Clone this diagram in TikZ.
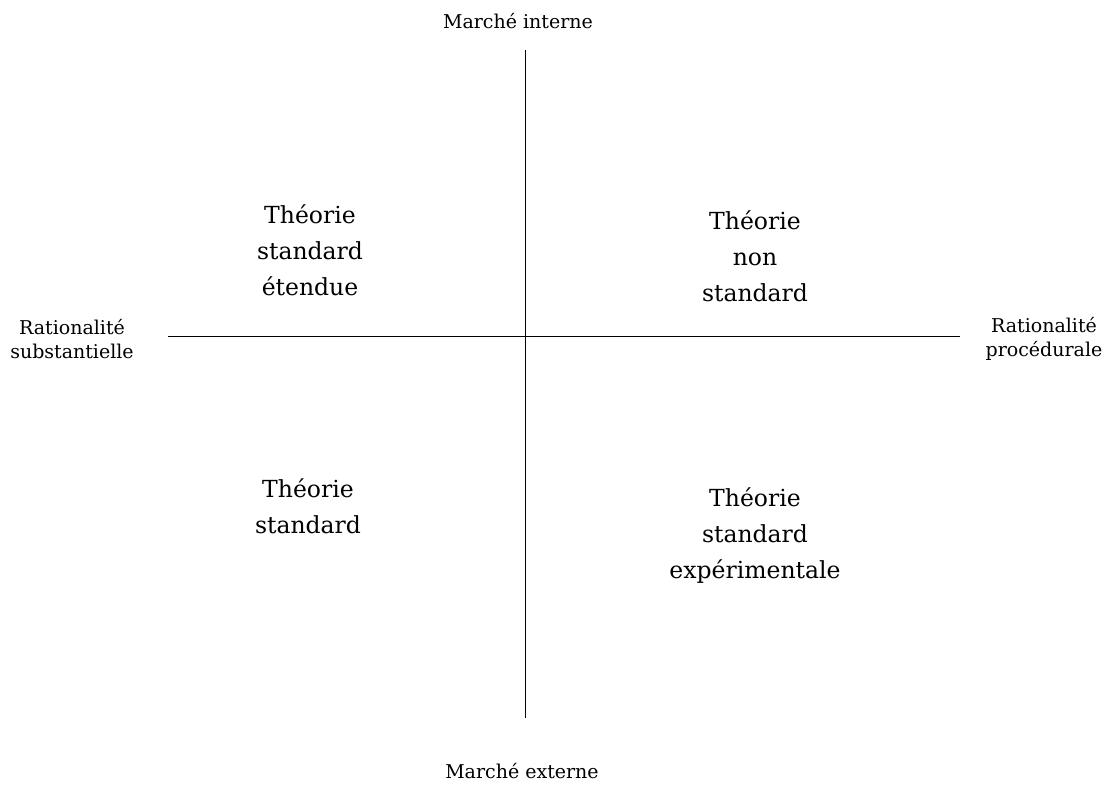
\documentclass[tikz,border=0pt]{standalone}
\usepackage{fontspec}
\setmainfont{DejaVu Serif}
\begin{document}
\begin{tikzpicture}[x=1pt,y=-1pt,
  axis/.style={line width=1pt,black},
  small/.style={align=center,inner sep=0pt,font=\fontsize{19}{24}\selectfont},
  big/.style={align=center,inner sep=0pt,font=\fontsize{23.5}{36}\selectfont}]
\useasboundingbox (0,0) rectangle (1116,785);
% axes
\coordinate (vt) at (525,50);
\coordinate (vb) at (525,718);
\coordinate (hl) at (168,336);
\coordinate (hr) at (960,336);
\draw[axis] (vt) -- (vb);
\draw[axis] (hl) -- (hr);
% axis labels
\node[small] (mi) at (518,21) {Marché interne};
\node[small] (me) at (522,771) {Marché externe};
\node[small] (rs) at (72,339) {Rationalité\\substantielle};
\node[small] (rp) at (1044,339) {Rationalité\\procédurale};
% quadrants
\node[big] (tl) at (310,250) {Théorie\\standard\\étendue};
\node[big] (tr) at (755,256) {Théorie\\non\\standard};
\node[big] (bl) at (308,506) {Théorie\\standard};
\node[big] (br) at (755,536) {Théorie\\standard\\expérimentale};
\end{tikzpicture}
\end{document}
